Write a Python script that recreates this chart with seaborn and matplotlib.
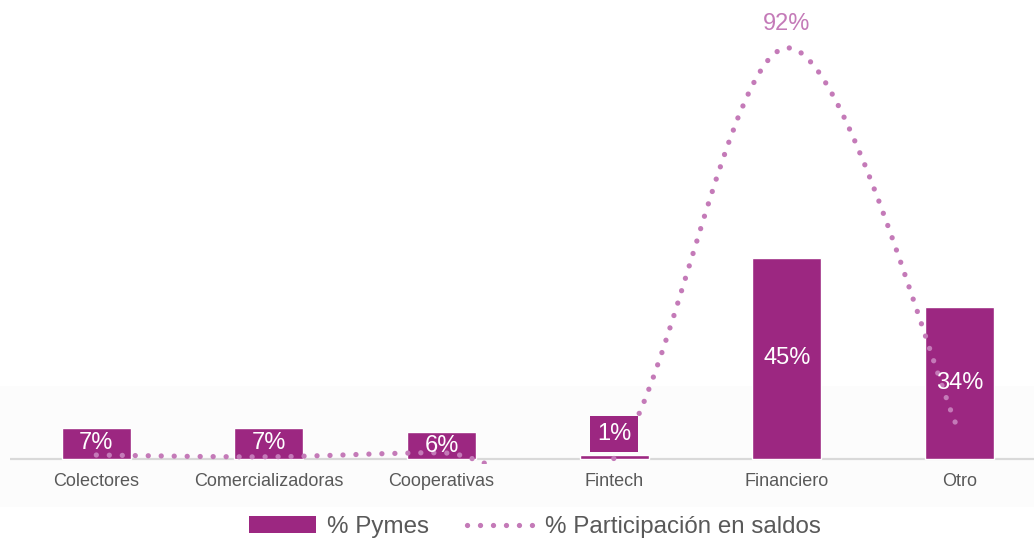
import numpy as np
import pandas as pd
import matplotlib
matplotlib.use("Agg")
import matplotlib.pyplot as plt
from matplotlib.path import Path
from matplotlib.patches import PathPatch, Patch, Rectangle
from matplotlib.lines import Line2D
import seaborn as sns

# Data
categorias = ["Colectores", "Comercializadoras", "Cooperativas", "Fintech", "Financiero", "Otro"]
pct_pymes = [7, 7, 6, 1, 45, 34]
pct_saldos = [0.9, 0.5, 1.4, 0.2, 92, 6]
etiqueta_pico = "92%"

BAR_COLOR = "#9C2781"
LINE_COLOR = "#C47AB8"
TEXT_GRAY = "#595959"
AXIS_GRAY = "#D9D9D9"
DOTS = (0, (0.01, 2.45))

sns.set_theme(style="white")
plt.rcParams["font.family"] = ["Liberation Sans", "DejaVu Sans"]

W, H = 1034, 540
fig = plt.figure(figsize=(W / 100, H / 100), dpi=100)

# faint band behind the category axis
fig.patches.append(Rectangle((0, 1 - 507 / H), 1, (507 - 386) / H,
                             transform=fig.transFigure, facecolor="#FCFCFC",
                             edgecolor="none", zorder=-10))

ax = fig.add_axes([10 / W, (H - 463.5) / H, 1035.6 / W, (463.5 - 5) / H])
ax.set_facecolor("none")

df = pd.DataFrame({"categoria": categorias, "pymes": pct_pymes})
sns.barplot(data=df, x="categoria", y="pymes", order=categorias, color=BAR_COLOR,
            saturation=1, width=0.4, ax=ax, zorder=2)

ax.set_xlim(-0.5, 5.5)
ax.set_ylim(-1, 101.6)
ax.axhline(0, color=AXIS_GRAY, lw=1.6, zorder=1)
for s in ax.spines.values():
    s.set_visible(False)
ax.set_yticks([])
ax.set_xlabel("")
ax.set_ylabel("")
ax.tick_params(axis="x", length=0, pad=7, labelsize=13, labelcolor=TEXT_GRAY)

# Bar value labels
for i, v in enumerate(pct_pymes):
    if v >= 3:
        ax.text(i, v / 2, f"{v}%", ha="center", va="center", color="white",
                fontsize=17, zorder=4)
    else:
        ax.annotate(f"{v}%", xy=(i, v), xytext=(0, 15), textcoords="offset points",
                    ha="center", va="center", color="white", fontsize=17, zorder=4,
                    bbox=dict(boxstyle="square,pad=0.3", fc=BAR_COLOR, ec="none"))

# Smoothed dotted line (Catmull-Rom segments as cubic Bezier curves)
pts = np.column_stack([np.arange(len(pct_saldos), dtype=float), np.asarray(pct_saldos, float)])
n = len(pts)
verts = [pts[0]]
codes = [Path.MOVETO]
for i in range(n - 1):
    p0 = pts[max(i - 1, 0)]
    p1 = pts[i]
    p2 = pts[i + 1]
    p3 = pts[min(i + 2, n - 1)]
    c1 = p1 + (p2 - p0) / 6
    c2 = p2 - (p3 - p1) / 6
    verts += [c1, c2, p2]
    codes += [Path.CURVE4] * 3
curve = PathPatch(Path(verts, codes), fill=False, edgecolor=LINE_COLOR, lw=3.8,
                  linestyle=DOTS, capstyle="round", zorder=3)
ax.add_patch(curve)

i_max = int(np.argmax(pct_saldos))
ax.annotate(etiqueta_pico, xy=(i_max, pct_saldos[i_max]), xytext=(0, 17),
            textcoords="offset points", ha="center", va="center",
            color=LINE_COLOR, fontsize=17, zorder=4)

# Legend
handles = [
    Patch(facecolor=BAR_COLOR, edgecolor="none", label="% Pymes"),
    Line2D([], [], color=LINE_COLOR, lw=3.8, linestyle=DOTS,
           dash_capstyle="round", label="% Participación en saldos"),
]
leg = fig.legend(handles=handles, loc="center", bbox_to_anchor=(535 / W, 1 - 527 / H),
                 ncol=2, frameon=False, fontsize=17.4, handlelength=2.8,
                 handletextpad=0.45, columnspacing=1.55, borderpad=0)
for t in leg.get_texts():
    t.set_color(TEXT_GRAY)

fig.savefig("out.png", dpi=100)
